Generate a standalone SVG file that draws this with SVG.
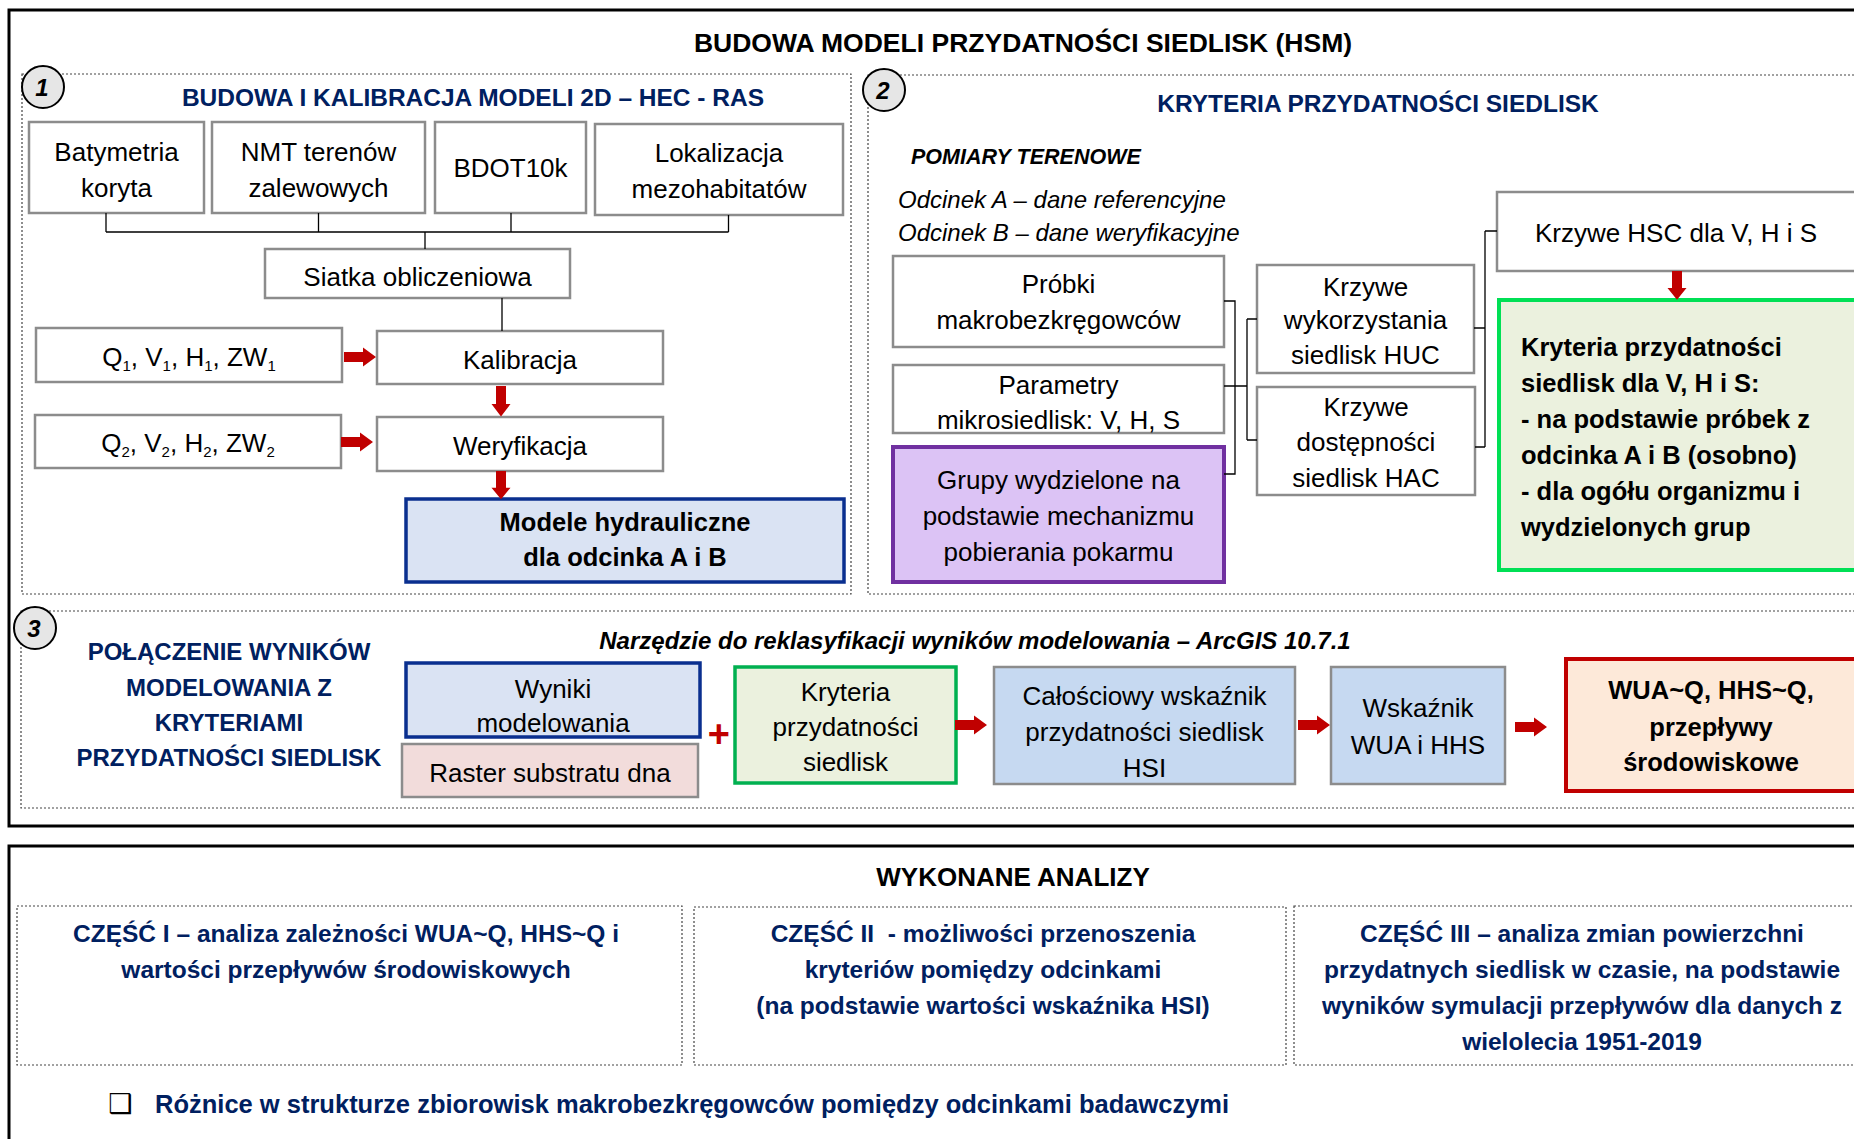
<svg xmlns="http://www.w3.org/2000/svg" width="1854" height="1139" viewBox="0 0 1854 1139">
<style>
text{font-family:"Liberation Sans",Arial,sans-serif;font-size:26px;text-anchor:middle;dominant-baseline:central;fill:#000}
.b{font-weight:bold}
.i{font-style:italic}
.s{text-anchor:start}
.blue{fill:#002060;font-weight:bold;font-size:24.5px}
.h{font-size:25.5px;font-weight:bold}
.frame{fill:none;stroke:#000;stroke-width:3}
.dot{fill:none;stroke:#444;stroke-width:1.2;stroke-dasharray:2 2}
.g{fill:#fff;stroke:#8c8c8c;stroke-width:2.5}
.circ{fill:#e6e6e6;stroke:#000;stroke-width:2}
.num{font-weight:bold;font-style:italic;font-size:24px}
.ln{fill:none;stroke:#000;stroke-width:1.3}
.arr{fill:#c00000}
.sub{font-size:15px}
</style>
<defs>
<path id="ah" d="M0,-5 H19 V-9.5 L32,0 L19,9.5 V5 H0 Z"/>
</defs>
<rect width="1854" height="1139" fill="#fff"/>
<!-- frames -->
<rect class="frame" x="9" y="10" width="1870" height="816"/>
<rect class="frame" x="9" y="846" width="1870" height="320"/>
<text class="b" x="1023" y="43" style="font-size:26.5px">BUDOWA MODELI PRZYDATNOŚCI SIEDLISK (HSM)</text>

<!-- section 1 -->
<g id="section1">
<rect class="dot" x="22" y="74" width="829" height="520"/>
<circle class="circ" cx="43" cy="87" r="21"/>
<text class="num" x="42" y="87">1</text>
<text class="blue" x="473" y="97">BUDOWA I KALIBRACJA MODELI 2D – HEC - RAS</text>
</g>
<g id="batymetria"><rect class="g" x="29" y="122" width="175" height="91"/><text x="116.5" y="152">Batymetria</text><text x="116.5" y="188">koryta</text></g>
<g id="nmt"><rect class="g" x="212" y="122" width="213" height="91"/><text x="318.5" y="152">NMT terenów</text><text x="318.5" y="188">zalewowych</text></g>
<g id="bdot"><rect class="g" x="435" y="122" width="151" height="91"/><text x="510.5" y="168">BDOT10k</text></g>
<g id="lokalizacja"><rect class="g" x="595" y="124" width="248" height="91"/><text x="719" y="153">Lokalizacja</text><text x="719" y="189">mezohabitatów</text></g>
<g id="siatka"><rect class="g" x="265" y="249" width="305" height="49"/><text x="417.5" y="277">Siatka obliczeniowa</text></g>
<g id="q1"><rect class="g" x="36" y="328" width="306" height="54"/><text x="189" y="357">Q<tspan class="sub" dy="8">1</tspan><tspan dy="-8">, V</tspan><tspan class="sub" dy="8">1</tspan><tspan dy="-8">, H</tspan><tspan class="sub" dy="8">1</tspan><tspan dy="-8">, ZW</tspan><tspan class="sub" dy="8">1</tspan></text></g>
<g id="kalibracja"><rect class="g" x="377" y="331" width="286" height="53"/><text x="520" y="360">Kalibracja</text></g>
<g id="q2"><rect class="g" x="35" y="415" width="306" height="53"/><text x="188" y="443">Q<tspan class="sub" dy="8">2</tspan><tspan dy="-8">, V</tspan><tspan class="sub" dy="8">2</tspan><tspan dy="-8">, H</tspan><tspan class="sub" dy="8">2</tspan><tspan dy="-8">, ZW</tspan><tspan class="sub" dy="8">2</tspan></text></g>
<g id="weryfikacja"><rect class="g" x="377" y="417" width="286" height="54"/><text x="520" y="446">Weryfikacja</text></g>
<g id="modele"><rect x="406" y="499" width="438" height="83" fill="#dae3f3" stroke="#0a2f8f" stroke-width="3.5"/><text class="h" x="625" y="522">Modele hydrauliczne</text><text class="h" x="625" y="557">dla odcinka A i B</text></g>

<!-- section 2 -->
<g id="section2">
<rect class="dot" x="868" y="75" width="1010" height="519"/>
<circle class="circ" cx="884" cy="90" r="21"/>
<text class="num" x="883" y="90">2</text>
<text class="blue" x="1378" y="103">KRYTERIA PRZYDATNOŚCI SIEDLISK</text>
<text class="b i s" x="911" y="157" style="font-size:21.5px">POMIARY TERENOWE</text>
<text class="i s" x="898" y="199" style="font-size:24px">Odcinek A – dane referencyjne</text>
<text class="i s" x="898" y="232" style="font-size:24px">Odcinek B – dane weryfikacyjne</text>
</g>
<g id="probki"><rect class="g" x="893" y="256" width="331" height="91"/><text x="1058.5" y="284">Próbki</text><text x="1058.5" y="320">makrobezkręgowców</text></g>
<g id="parametry"><rect class="g" x="893" y="365" width="331" height="68"/><text x="1058.5" y="385">Parametry</text><text x="1058.5" y="420">mikrosiedlisk: V, H, S</text></g>
<g id="grupy"><rect x="893" y="447" width="331" height="135" fill="#dcc3f5" stroke="#7030a0" stroke-width="4"/><text x="1058.5" y="480">Grupy wydzielone na</text><text x="1058.5" y="516">podstawie mechanizmu</text><text x="1058.5" y="552">pobierania pokarmu</text></g>
<g id="huc"><rect class="g" x="1257" y="265" width="217" height="108"/><text x="1365.5" y="287">Krzywe</text><text x="1365.5" y="320">wykorzystania</text><text x="1365.5" y="355">siedlisk HUC</text></g>
<g id="hac"><rect class="g" x="1257" y="387" width="218" height="108"/><text x="1366" y="407">Krzywe</text><text x="1366" y="442">dostępności</text><text x="1366" y="478">siedlisk HAC</text></g>
<g id="hsc"><rect class="g" x="1497" y="192" width="370" height="79"/><text x="1676" y="233">Krzywe HSC dla V, H i S</text></g>
<g id="kryteria2"><rect x="1499" y="300" width="370" height="270" fill="#ebf1de" stroke="#00e055" stroke-width="4"/>
<text class="h s" x="1521" y="347">Kryteria przydatności</text>
<text class="h s" x="1521" y="383">siedlisk dla V, H i S:</text>
<text class="h s" x="1521" y="419">- na podstawie próbek z</text>
<text class="h s" x="1521" y="455">odcinka A i B (osobno)</text>
<text class="h s" x="1521" y="491">- dla ogółu organizmu i</text>
<text class="h s" x="1521" y="527">wydzielonych grup</text></g>

<!-- section 3 -->
<g id="section3">
<rect class="dot" x="21" y="611" width="1860" height="197"/>
<circle class="circ" cx="35" cy="628" r="21"/>
<text class="num" x="34" y="628">3</text>
<text class="blue" x="229" y="651" style="font-size:24px">POŁĄCZENIE WYNIKÓW</text>
<text class="blue" x="229" y="687" style="font-size:24px">MODELOWANIA Z</text>
<text class="blue" x="229" y="722" style="font-size:24px">KRYTERIAMI</text>
<text class="blue" x="229" y="757" style="font-size:24px">PRZYDATNOŚCI SIEDLISK</text>
<text class="b i" x="975" y="640" style="font-size:24px">Narzędzie do reklasyfikacji wyników modelowania – ArcGIS 10.7.1</text>
<text class="b i" x="718" y="734" style="font-size:38px;fill:#c00000">+</text>
</g>
<g id="wyniki"><rect x="406" y="663" width="294" height="74" fill="#dae3f3" stroke="#0a2f8f" stroke-width="3.5"/><text x="553" y="689">Wyniki</text><text x="553" y="723">modelowania</text></g>
<g id="raster"><rect x="402" y="744" width="296" height="53" fill="#f2dcdb" stroke="#8c8c8c" stroke-width="2.5"/><text x="550" y="773">Raster substratu dna</text></g>
<g id="kryteria3"><rect x="735" y="667" width="221" height="116" fill="#ebf1de" stroke="#00b050" stroke-width="3.5"/><text x="845.5" y="692">Kryteria</text><text x="845.5" y="727">przydatności</text><text x="845.5" y="762">siedlisk</text></g>
<g id="hsi"><rect x="994" y="667" width="301" height="117" fill="#c6d9f1" stroke="#8c8c8c" stroke-width="2.5"/><text x="1144.5" y="696">Całościowy wskaźnik</text><text x="1144.5" y="732">przydatności siedlisk</text><text x="1144.5" y="768">HSI</text></g>
<g id="wskaznik"><rect x="1331" y="667" width="174" height="117" fill="#c6d9f1" stroke="#8c8c8c" stroke-width="2.5"/><text x="1418" y="708">Wskaźnik</text><text x="1418" y="745">WUA i HHS</text></g>
<g id="wua"><rect x="1566" y="659" width="300" height="132" fill="#fde9d9" stroke="#c00000" stroke-width="4"/><text class="h" x="1711" y="690">WUA~Q, HHS~Q,</text><text class="h" x="1711" y="727">przepływy</text><text class="h" x="1711" y="762">środowiskowe</text></g>

<!-- bottom -->
<g id="analizy">
<text class="b" x="1013" y="877">WYKONANE ANALIZY</text>
</g>
<g id="czesc1"><rect class="dot" x="17" y="906" width="665" height="159"/>
<text class="blue" x="346" y="933">CZĘŚĆ I – analiza zależności WUA~Q, HHS~Q i</text>
<text class="blue" x="346" y="969">wartości przepływów środowiskowych</text></g>
<g id="czesc2"><rect class="dot" x="694" y="907" width="592" height="158"/>
<text class="blue" x="983" y="933" style="white-space:pre">CZĘŚĆ II  - możliwości przenoszenia</text>
<text class="blue" x="983" y="969">kryteriów pomiędzy odcinkami</text>
<text class="blue" x="983" y="1005">(na podstawie wartości wskaźnika HSI)</text></g>
<g id="czesc3"><rect class="dot" x="1294" y="906" width="600" height="159"/>
<text class="blue" x="1582" y="933">CZĘŚĆ III – analiza zmian powierzchni</text>
<text class="blue" x="1582" y="969">przydatnych siedlisk w czasie, na podstawie</text>
<text class="blue" x="1582" y="1005">wyników symulacji przepływów dla danych z</text>
<text class="blue" x="1582" y="1041">wielolecia 1951-2019</text></g>
<g id="roznice">
<text x="120" y="1103" style="font-family:'DejaVu Sans',sans-serif;font-size:27px;font-weight:bold">❑</text>
<text class="blue s" x="155" y="1104" style="font-size:25.5px">Różnice w strukturze zbiorowisk makrobezkręgowców pomiędzy odcinkami badawczymi</text>
</g>

<!-- connectors -->
<g id="connectors">
<path class="ln" d="M106,213V232M318.5,213V232M511,213V232M728.5,215V232M106,232H728.5M425,232V249M502,298V331"/>
<path class="ln" d="M1224,301H1235V474H1224M1224,386H1247M1247,319V440M1247,319H1257M1247,440H1257"/>
<path class="ln" d="M1474,328H1485M1485,231V447M1485,231H1497M1475,447H1485"/>
<use href="#ah" class="arr" transform="translate(344,357)"/>
<use href="#ah" class="arr" transform="translate(341,442)"/>
<use href="#ah" class="arr" transform="translate(501,386) rotate(90) scale(0.95,1)"/>
<use href="#ah" class="arr" transform="translate(501,471) rotate(90) scale(0.88,1)"/>
<use href="#ah" class="arr" transform="translate(1677,271) rotate(90) scale(0.9,1)"/>
<use href="#ah" class="arr" transform="translate(955,725)"/>
<use href="#ah" class="arr" transform="translate(1298,725)"/>
<use href="#ah" class="arr" transform="translate(1515,727)"/>
</g>
</svg>
